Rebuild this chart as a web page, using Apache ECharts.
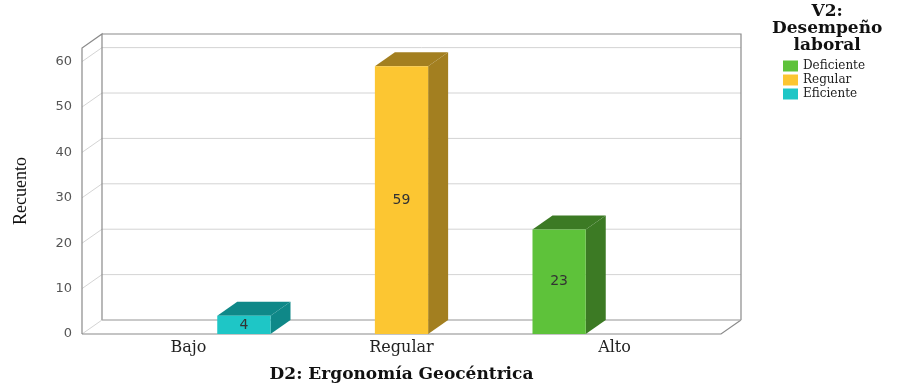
<!DOCTYPE html>
<html>
<head>
<meta charset="utf-8">
<script src="https://cdn.jsdelivr.net/npm/echarts@6/dist/echarts.min.js"></script>
<style>
html,body{margin:0;padding:0;background:#fff;}
#main{width:898px;height:383px;}
</style>
</head>
<body>
<div id="main"></div>
<script>
// datos del grafico
var categorias = ['Bajo', 'Regular', 'Alto'];
var deficiente = [0, 0, 23];
var regular = [0, 59, 0];
var eficiente = [4, 0, 0];
var marcas = [0, 10, 20, 30, 40, 50, 60];

var chart = echarts.init(document.getElementById('main'));

// profundidad del efecto 3D
var DX = 20, DY = 14;

function toData(arr) {
    return arr.map(function (v, i) { return [i, v]; });
}

// barra 3D: cara frontal, superior y lateral
function barra(pos, front, dark) {
    return function (params, api) {
        var v = api.value(1);
        if (!v) return;
        var base = api.coord([api.value(0), 0]);
        var top = api.coord([api.value(0), v]);
        var band = api.size([1, 0])[0];
        var w = band * 0.25;
        var cx = base[0] + pos * band * 0.26;
        var x0 = cx - w / 2, x1 = cx + w / 2;
        var ty = top[1], by = base[1];
        return {
            type: 'group',
            children: [
                {type: 'polygon', shape: {points: [[x0, ty], [x0 + DX, ty - DY], [x1 + DX, ty - DY], [x1, ty]]},
                    style: {fill: dark}},
                {type: 'polygon', shape: {points: [[x1, ty], [x1 + DX, ty - DY], [x1 + DX, by - DY], [x1, by]]},
                    style: {fill: dark}},
                {type: 'rect', shape: {x: x0, y: ty, width: w, height: by - ty},
                    style: {fill: front, text: String(v), textFill: '#333',
                        fontSize: 14, fontFamily: 'DejaVu Sans', textPosition: 'inside'}}
            ]
        };
    };
}

// caja: pared del fondo, pared izquierda y piso
function caja(params, api) {
    var cs = params.coordSys;
    var L = cs.x, R = cs.x + cs.width, T = cs.y, B = cs.y + cs.height;
    var ch = [];
    ch.push({type: 'rect', shape: {x: L + DX, y: T - DY, width: cs.width, height: cs.height},
        style: {fill: '#fff', stroke: null}});
    marcas.forEach(function (m) {
        var y = api.coord([0, m])[1];
        ch.push({type: 'polyline', shape: {points: [[L, y], [L + DX, y - DY], [R + DX, y - DY]]},
            style: {fill: null, stroke: '#d4d4d4', lineWidth: 1}});
    });
    var borde = {fill: null, stroke: '#8a8a8a', lineWidth: 1.2};
    ch.push({type: 'polyline', shape: {points: [[L, B], [L, T], [L + DX, T - DY], [L + DX, B - DY]]}, style: borde});
    ch.push({type: 'polyline', shape: {points: [[L + DX, T - DY], [R + DX, T - DY], [R + DX, B - DY]]}, style: borde});
    ch.push({type: 'polyline', shape: {points: [[L, B], [R, B], [R + DX, B - DY]]}, style: borde});
    ch.push({type: 'line', shape: {x1: L + DX, y1: B - DY, x2: R + DX, y2: B - DY}, style: {stroke: '#aaa', lineWidth: 1}});
    return {type: 'group', children: ch};
}

var option = {
    backgroundColor: '#fff',
    animation: false,
    grid: {left: 82, right: 177, top: 48, bottom: 49, outerBoundsMode: 'none'},
    legend: {
        orient: 'vertical',
        left: 778, top: 55,
        itemWidth: 15, itemHeight: 11, itemGap: 2,
        icon: 'rect',
        data: ['Deficiente', 'Regular', 'Eficiente'],
        textStyle: {fontFamily: 'DejaVu Serif', fontSize: 12, color: '#222'}
    },
    graphic: [{
        type: 'text', left: 772, top: 3,
        style: {text: 'V2:\nDesempeño\nlaboral', textAlign: 'center', fontFamily: 'DejaVu Serif',
            fontWeight: 'bold', fontSize: 17, lineHeight: 17, fill: '#111'}
    }],
    xAxis: {
        type: 'category',
        data: categorias,
        axisLine: {show: false},
        axisTick: {show: false},
        axisLabel: {fontFamily: 'DejaVu Serif', fontSize: 16, color: '#222', margin: 6},
        name: 'D2: Ergonomía Geocéntrica',
        nameLocation: 'middle',
        nameGap: 32,
        nameTextStyle: {fontFamily: 'DejaVu Serif', fontWeight: 'bold', fontSize: 17, color: '#111'}
    },
    yAxis: {
        type: 'value',
        min: 0, max: 63, interval: 10,
        axisLine: {show: false},
        axisTick: {show: false},
        splitLine: {show: false},
        axisLabel: {showMaxLabel: false, fontFamily: 'DejaVu Sans', fontSize: 13, color: '#555', margin: 10},
        name: 'Recuento',
        nameLocation: 'middle',
        nameGap: 52,
        nameTextStyle: {fontFamily: 'Liberation Serif', fontSize: 18, color: '#111'}
    },
    series: [
        {type: 'custom', name: 'caja', renderItem: caja, data: [[0, 0]], z: 1, silent: true},
        {type: 'custom', name: 'Deficiente', renderItem: barra(-1, '#5ec23a', '#3c7a24'),
            itemStyle: {color: '#5ec23a'}, encode: {x: 0, y: 1}, data: toData(deficiente), z: 3},
        {type: 'custom', name: 'Regular', renderItem: barra(0, '#fcc632', '#a37f20'),
            itemStyle: {color: '#fcc632'}, encode: {x: 0, y: 1}, data: toData(regular), z: 3},
        {type: 'custom', name: 'Eficiente', renderItem: barra(1, '#1ec6c6', '#0f8888'),
            itemStyle: {color: '#1ec6c6'}, encode: {x: 0, y: 1}, data: toData(eficiente), z: 3}
    ]
};
chart.setOption(option);
</script>
</body>
</html>
